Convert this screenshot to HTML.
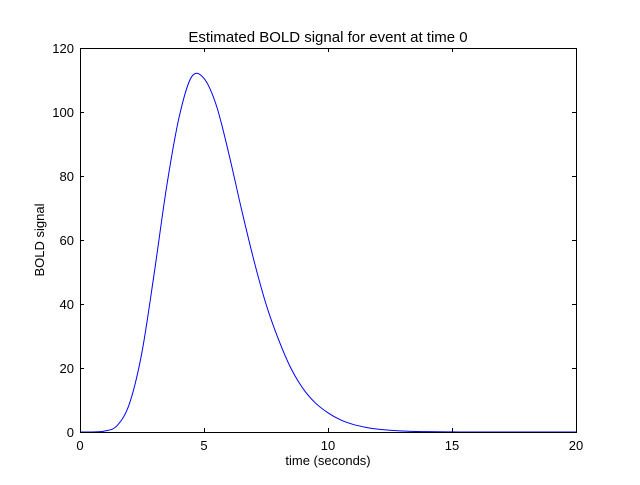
<!DOCTYPE html>
<html><head><meta charset="utf-8"><style>
body{margin:0;background:#fff;}
svg text{font-family:"Liberation Sans","DejaVu Sans",sans-serif;}
</style></head><body>
<svg id="chart" width="640" height="480" viewBox="0 0 640 480">
<rect width="640" height="480" fill="#fff"/>
<text x="328" y="42" text-anchor="middle" font-size="15">Estimated BOLD signal for event at time 0</text>
<g id="ticks"></g>
<path id="curve" fill="none" stroke="#0000ff" stroke-width="1"/>
<rect x="80.5" y="48.5" width="496" height="384" fill="none" stroke="#000" stroke-width="1"/>
<text x="328" y="465" text-anchor="middle" font-size="13">time (seconds)</text>
<text transform="translate(44,240) rotate(-90)" text-anchor="middle" font-size="13">BOLD signal</text>
</svg>
<script>
const times=[0,0.5,1,1.5,2,2.5,3,3.5,4,4.5,5,5.5,6,6.5,7,7.5,8,8.5,9,9.5,10,10.5,11,11.5,12,13,14,15,16,18,20];
const signal=[0,0,0.3,2,9,25,50,77,98.5,111,110.5,102,87,70,54,40,29,20,13.5,9,6,3.8,2.4,1.5,0.9,0.3,0.1,0.03,0,0,0];
const xTicks=[0,5,10,15,20];
const yTicks=[0,20,40,60,80,100,120];
const L=80,R=576,T=48,B=432;
const sx=v=>L+(v-0)/20*(R-L);
const sy=v=>B-(v-0)/120*(B-T);
const ns="http://www.w3.org/2000/svg";
const g=document.getElementById('ticks');
function mk(tag,attrs){const e=document.createElementNS(ns,tag);for(const k in attrs)e.setAttribute(k,attrs[k]);return e;}
xTicks.forEach(v=>{
  const x=Math.round(sx(v))+0.5;
  const t1=mk('line',{x1:x,x2:x,y1:B,y2:B-4,stroke:'#000'});
  
  
  g.appendChild(t1);
  const t2=mk('line',{x1:x,x2:x,y1:T,y2:T+4,stroke:'#000'});
  
  
  g.appendChild(t2);
  const tx=mk('text',{x:sx(v),y:B+18,'text-anchor':'middle','font-size':13});
  tx.textContent=v;
  
  
  g.appendChild(tx);
});
yTicks.forEach(v=>{
  const y=Math.round(sy(v))+0.5;
  const t1=mk('line',{x1:L,x2:L+4,y1:y,y2:y,stroke:'#000'});
  
  
  g.appendChild(t1);
  const t2=mk('line',{x1:R,x2:R-4,y1:y,y2:y,stroke:'#000'});
  
  
  g.appendChild(t2);
  const tx=mk('text',{x:L-6,y:sy(v)+5,'text-anchor':'end','font-size':13});
  tx.textContent=v;
  
  
  g.appendChild(tx);
});
const pts=times.map((t,i)=>[sx(t),sy(signal[i])]);
let d='M'+pts[0][0]+','+pts[0][1];
for(let i=0;i<pts.length-1;i++){
  const p0=pts[Math.max(0,i-1)],p1=pts[i],p2=pts[i+1],p3=pts[Math.min(pts.length-1,i+2)];
  const c1=[p1[0]+(p2[0]-p0[0])/6,p1[1]+(p2[1]-p0[1])/6];
  const c2=[p2[0]-(p3[0]-p1[0])/6,p2[1]-(p3[1]-p1[1])/6];
  d+=` C${c1[0]},${Math.min(c1[1],B)} ${c2[0]},${Math.min(c2[1],B)} ${p2[0]},${p2[1]}`;
}
document.getElementById('curve').setAttribute('d',d);
</script>
</body></html>
